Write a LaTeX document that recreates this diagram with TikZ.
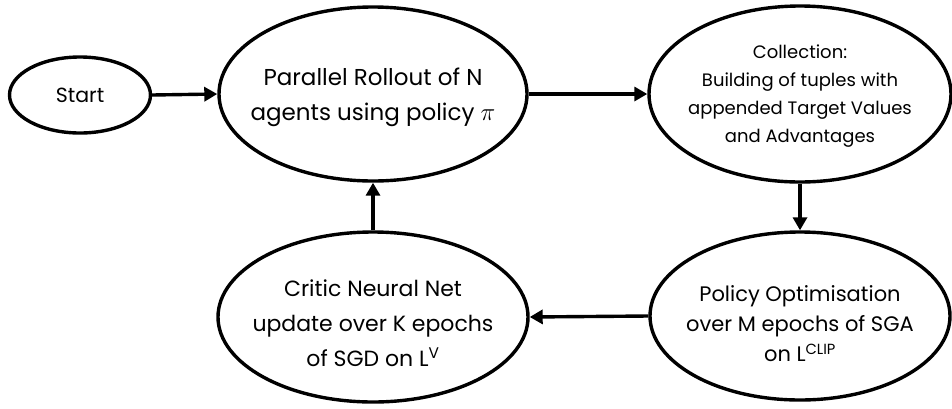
\documentclass[tikz,border=0pt]{standalone}
\usepackage{fontspec}
\setmainfont{Poppins}
\usetikzlibrary{shapes.geometric,arrows.meta}
\begin{document}
\begin{tikzpicture}[x=1pt,y=-1pt,
  ell/.style={ellipse,draw,line width=3.4pt,inner sep=0pt},
  txt/.style={align=center,inner sep=0pt},
  conn/.style={line width=3.4pt,-{Triangle[length=13pt,width=14pt]}}]
\useasboundingbox (0,0) rectangle (952,408);
\node[ell,minimum width=141pt,minimum height=76pt] (start) at (80,95) {};
\node[txt,font=\fontsize{20.5}{35}\selectfont] (starttxt) at (start) {Start};
\node[ell,minimum width=308pt,minimum height=174pt] (roll) at (373,94) {};
\node[txt,font=\fontsize{23}{35}\selectfont] (rolltxt) at (373,97) {Parallel Rollout of N\\agents using policy $\pi$};
\node[ell,minimum width=302pt,minimum height=176pt] (coll) at (800,94) {};
\node[txt,font=\fontsize{18}{28}\selectfont] (colltxt) at (800,96) {Collection:\\Building of tuples with\\appended Target Values\\and Advantages};
\node[ell,minimum width=300pt,minimum height=168pt] (pol) at (800,316) {};
\node[txt,font=\fontsize{21}{30}\selectfont] (poltxt) at (800,324) {Policy Optimisation\\over M epochs of SGA\\on L\textsuperscript{CLIP}};
\node[ell,minimum width=310pt,minimum height=170pt] (crit) at (373,317) {};
\node[txt,font=\fontsize{22}{35}\selectfont] (crittxt) at (373,323) {Critic Neural Net\\update over K epochs\\of SGD on L\textsuperscript{V}};
\draw[conn] (start.east) -- (roll.west);
\draw[conn] (roll.east) -- (coll.west);
\draw[conn] (coll.south) -- (pol.north);
\draw[conn] (pol.west) -- (crit.east);
\draw[conn] (crit.north) -- (roll.south);
\end{tikzpicture}
\end{document}
